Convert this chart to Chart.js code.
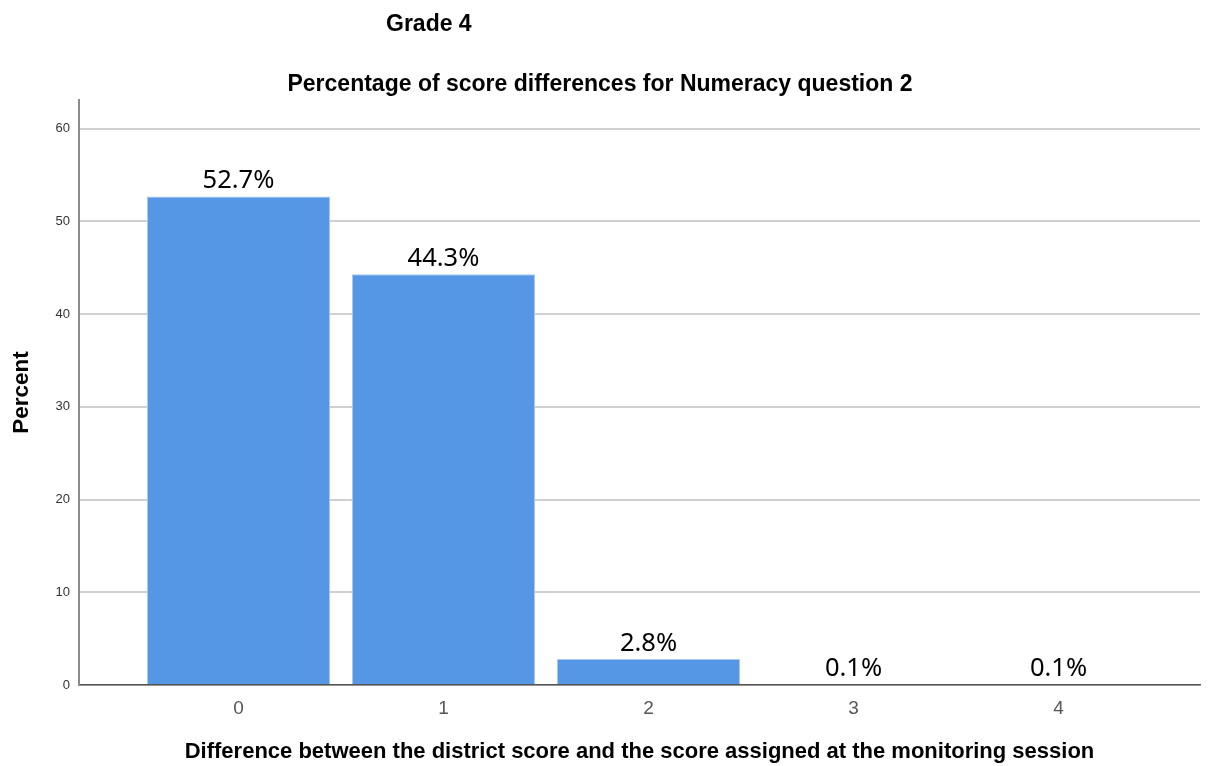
<!DOCTYPE html>
<html lang="en">
<head>
  <meta charset="UTF-8">
  <title>Grade 4 - Numeracy question 2</title>
  <style>
    body { margin: 0; background: #ffffff; }
    #wrap { position: relative; width: 1210px; height: 766px; }
    #grade { position: absolute; left: 386px; top: 10px; font: bold 23px "Liberation Sans", Arial, sans-serif; color: #000; }
  </style>
</head>
<body>
  <div id="wrap">
    <div id="grade">Grade 4</div>
    <canvas id="chart" width="1210" height="766"></canvas>
  </div>

  <script src="https://cdn.jsdelivr.net/npm/chart.js"></script>
  <script>
    // data
    const categories = ['0', '1', '2', '3', '4'];
    const percentValues = [52.7, 44.3, 2.8, 0.1, 0.1];
    const percentLabels = ['52.7%', '44.3%', '2.8%', '0.1%', '0.1%'];
    const yTicks = [0, 10, 20, 30, 40, 50, 60];

    const FONT = '"Liberation Sans", Arial, sans-serif';

    // percentage text above every bar
    const barLabels = {
      id: 'barLabels',
      afterDatasetsDraw(chart) {
        const ctx = chart.ctx;
        const meta = chart.getDatasetMeta(0);
        ctx.save();
        ctx.font = '25.5px "Noto Sans", sans-serif';
        ctx.fillStyle = '#000';
        ctx.textAlign = 'center';
        ctx.textBaseline = 'alphabetic';
        meta.data.forEach((bar, i) => {
          ctx.fillText(percentLabels[i], bar.x, bar.y - 8);
        });
        ctx.restore();
      }
    };

    new Chart(document.getElementById('chart'), {
      type: 'bar',
      data: {
        datasets: [{
          data: categories.map((c, i) => ({ x: Number(c), y: percentValues[i] })),
          backgroundColor: '#5596e5',
          borderColor: '#a9c9f1',
          borderWidth: 1,
          barPercentage: 0.893,
          categoryPercentage: 1
        }]
      },
      options: {
        responsive: false,
        animation: false,
        layout: { padding: { left: 0, right: 10, top: 0, bottom: 0 } },
        plugins: {
          legend: { display: false },
          tooltip: { enabled: false },
          title: {
            display: true,
            text: 'Percentage of score differences for Numeracy question 2',
            color: '#000',
            font: { family: FONT, size: 23, weight: 'bold' },
            padding: { top: 71, bottom: 1.4 }
          }
        },
        scales: {
          x: {
            type: 'linear',
            offset: false,
            min: -0.778,
            max: 4.69,
            afterBuildTicks(scale) {
              scale.ticks = categories.map(c => ({ value: Number(c) }));
            },
            afterFit(scale) { scale.height = 81; },
            grid: { display: false, drawTicks: false },
            border: { display: true, color: '#555', width: 1.5 },
            ticks: {
              padding: 12,
              color: '#555',
              font: { family: FONT, size: 19 },
              callback: (v) => categories[categories.indexOf(String(v))]
            },
            title: {
              display: true,
              text: 'Difference between the district score and the score assigned at the monitoring session',
              color: '#000',
              font: { family: FONT, size: 22, weight: 'bold' },
              padding: { top: 0, bottom: 1 }
            }
          },
          y: {
            min: 0,
            max: 63.1,
            afterBuildTicks(scale) {
              scale.ticks = yTicks.map(v => ({ value: v }));
            },
            afterFit(scale) { scale.width = 79; },
            grid: { color: '#d0d0d0', lineWidth: 2, drawTicks: false },
            border: { display: true, color: '#8c8c8c', width: 2 },
            ticks: {
              padding: 9,
              color: '#333',
              font: { family: FONT, size: 13 }
            },
            title: {
              display: true,
              text: 'Percent',
              color: '#000',
              font: { family: FONT, size: 22.5, weight: 'bold' },
              padding: { top: 8, bottom: 0 }
            }
          }
        }
      },
      plugins: [barLabels]
    });
  </script>
</body>
</html>
